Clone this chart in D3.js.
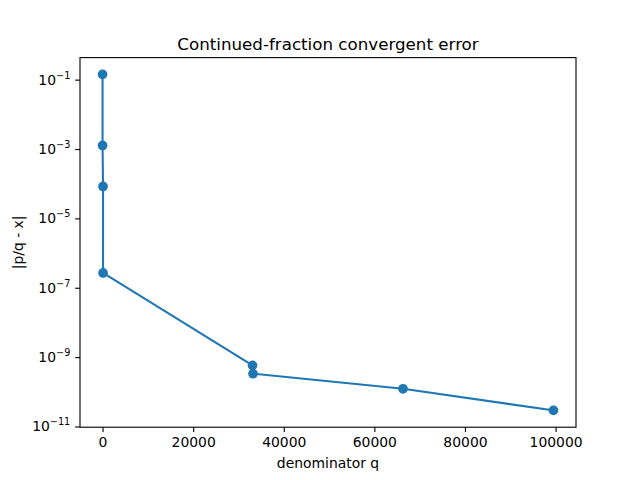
<!DOCTYPE html>
<html><head><meta charset="utf-8">
<script src="https://cdn.jsdelivr.net/npm/d3@7"></script>
<style>body{margin:0;background:#fff}text{font-family:"DejaVu Sans",sans-serif}</style>
</head><body>
<svg id="c" width="640" height="480"></svg>
<script>
const denominators = [1, 7, 106, 113, 33102, 33215, 66317, 99532];
const errors = [0.1416, 1.264e-3, 8.32e-5, 2.67e-7, 5.78e-10, 3.32e-10, 1.22e-10, 2.91e-11];
const xTicks = [0, 20000, 40000, 60000, 80000, 100000];
const yTickExps = [-11, -9, -7, -5, -3, -1];

const svg = d3.select("#c");
const L = 80, R = 576, T = 57.6, B = 427.2;
const color = "#1f77b4";

const xmin = d3.min(denominators), xmax = d3.max(denominators);
const xm = (xmax - xmin) * 0.05;
const x = d3.scaleLinear().domain([xmin - xm, xmax + xm]).range([L, R]);
const lmin = Math.log10(d3.min(errors)), lmax = Math.log10(d3.max(errors));
const lm = (lmax - lmin) * 0.05;
const y = d3.scaleLog().domain([Math.pow(10, lmin - lm), Math.pow(10, lmax + lm)]).range([B, T]);

const data = denominators.map((q, i) => ({q, e: errors[i]}));

svg.append("path").datum(data)
  .attr("fill", "none").attr("stroke", color).attr("stroke-width", 2.08)
  .attr("stroke-linejoin", "round").attr("stroke-linecap", "square")
  .attr("d", d3.line().x(d => x(d.q)).y(d => y(d.e)));

svg.selectAll("circle.pt").data(data).enter().append("circle")
  .attr("cx", d => x(d.q)).attr("cy", d => y(d.e)).attr("r", 4.17)
  .attr("fill", color).attr("stroke", color).attr("stroke-width", 1.39);

// frame
svg.append("rect").attr("x", L).attr("y", T).attr("width", R - L).attr("height", B - T)
  .attr("fill", "none").attr("stroke", "#000").attr("stroke-width", 1.11);

// x axis
const xa = svg.append("g").attr("transform", `translate(0,${B})`)
  .call(d3.axisBottom(x).tickValues(xTicks).tickFormat(d3.format("d")).tickSize(4.86).tickPadding(4.86));
xa.select(".domain").remove();
xa.selectAll("line").attr("stroke-width", 1.11);
xa.selectAll("text").attr("font-size", 13.9).attr("font-family", "DejaVu Sans").attr("fill", "#000");

// y axis
const ya = svg.append("g").attr("transform", `translate(${L},0)`)
  .call(d3.axisLeft(y).tickValues(yTickExps.map(e => Math.pow(10, e))).tickFormat("").tickSize(4.86));
ya.select(".domain").remove();
ya.selectAll("line").attr("stroke-width", 1.11);
yTickExps.forEach(e => {
  const t = svg.append("text").attr("x", L - 9.7).attr("y", y(Math.pow(10, e)) + 5)
    .attr("text-anchor", "end").attr("font-size", 13.9).attr("fill", "#000");
  t.append("tspan").text("10");
  t.append("tspan").attr("font-size", 9.7).attr("dy", -6).text("\u2212" + Math.abs(e));
});

svg.append("text").attr("x", (L + R) / 2).attr("y", 49.5).attr("text-anchor", "middle")
  .attr("font-size", 16.7).text("Continued-fraction convergent error");
svg.append("text").attr("x", (L + R) / 2).attr("y", 468).attr("text-anchor", "middle")
  .attr("font-size", 13.9).text("denominator q");
svg.append("text").attr("transform", `translate(23,${(T + B) / 2}) rotate(-90)`)
  .attr("text-anchor", "middle").attr("font-size", 13.9).text("|p/q - x|");
</script>
</body></html>
